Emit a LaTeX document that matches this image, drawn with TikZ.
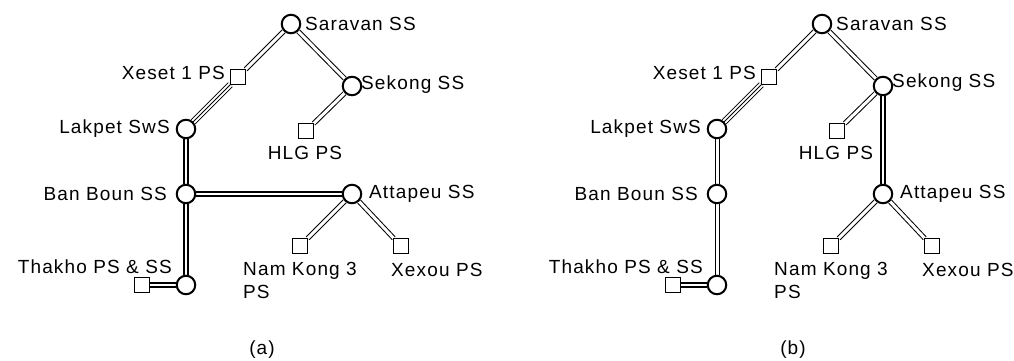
\documentclass[tikz,border=0pt]{standalone}
\usepackage{fontspec}
\setmainfont{Liberation Sans}[LetterSpace=6]
\usetikzlibrary{backgrounds}
\begin{document}
\begin{tikzpicture}[x=1pt,y=-1pt,
  ss/.style={circle, draw, line width=2pt, minimum size=18.5pt, inner sep=0pt, fill=white},
  ps/.style={rectangle, draw, line width=0.9pt, minimum size=14.5pt, inner sep=0pt, fill=white},
  lbl/.style={inner sep=0pt, font=\fontsize{19pt}{23pt}\selectfont},
  thinln/.style={line width=1pt, double=white, double distance=3pt},
  thickln/.style={line width=2pt, double=white, double distance=2.6pt},
  tripleln/.style={line width=0.9pt, double=white, double distance=4.8pt},
  midln/.style={line width=0.9pt}]
\useasboundingbox (0,0) rectangle (1014,360);
% ---------- (a) ----------
\node[ss] (asar) at (291,24) {};
\node[ps] (axes) at (238,77) {};
\node[ss] (asek) at (352,86) {};
\node[ss] (alak) at (186,129) {};
\node[ps] (ahlg) at (306,131) {};
\node[ss] (aban) at (186,194) {};
\node[ss] (aatt) at (352,194) {};
\node[ps] (ank) at (300,246) {};
\node[ps] (axex) at (401,246) {};
\node[ss] (atha) at (186,285) {};
\node[ps] (athas) at (142,285) {};
\begin{pgfonlayer}{background}
\draw[thinln] (asar) -- (axes);
\draw[thinln] (asar) -- (asek);
\draw[tripleln] (axes) -- (alak);
\draw[midln] (axes) -- (alak);
\draw[thinln] (asek) -- (ahlg);
\draw[thickln] (alak) -- (aban);
\draw[thickln] (aban) -- (atha);
\draw[thickln] (aban) -- (aatt);
\draw[thinln] (aatt) -- (ank);
\draw[thinln] (aatt) -- (axex);
\draw[thickln] (athas) -- (atha);
\end{pgfonlayer}
\node[lbl, anchor=west] (lasar) at (305,24) {Saravan SS};
\node[lbl, anchor=east] (laxes) at (225,73) {Xeset 1 PS};
\node[lbl, anchor=west] (lasek) at (361,85) {Sekong SS};
\node[lbl, anchor=east] (lalak) at (170,129) {Lakpet SwS};
\node[lbl] (lahlg) at (305,153) {HLG PS};
\node[lbl, anchor=east] (laban) at (167,194) {Ban Boun SS};
\node[lbl, anchor=west] (laatt) at (369,194) {Attapeu SS};
\node[lbl, anchor=north west, align=left] (lank) at (243,262) {Nam Kong 3\\PS};
\node[lbl, anchor=west] (laxex) at (391,270) {Xexou PS};
\node[lbl, anchor=east] (latha) at (172,267) {Thakho PS \& SS};
\node[lbl] (capa) at (262,350) {(a)};
% ---------- (b) ----------
\node[ss] (bsar) at (822,24) {};
\node[ps] (bxes) at (769,77) {};
\node[ss] (bsek) at (883,86) {};
\node[ss] (blak) at (717,129) {};
\node[ps] (bhlg) at (837,131) {};
\node[ss] (bban) at (717,194) {};
\node[ss] (batt) at (883,194) {};
\node[ps] (bnk) at (831,246) {};
\node[ps] (bxex) at (932,246) {};
\node[ss] (btha) at (717,285) {};
\node[ps] (bthas) at (673,285) {};
\begin{pgfonlayer}{background}
\draw[thinln] (bsar) -- (bxes);
\draw[thinln] (bsar) -- (bsek);
\draw[tripleln] (bxes) -- (blak);
\draw[midln] (bxes) -- (blak);
\draw[thinln] (bsek) -- (bhlg);
\draw[thinln] (blak) -- (bban);
\draw[thinln] (bban) -- (btha);
\draw[thickln] (bsek) -- (batt);
\draw[thinln] (batt) -- (bnk);
\draw[thinln] (batt) -- (bxex);
\draw[thickln] (bthas) -- (btha);
\end{pgfonlayer}
\node[lbl, anchor=west] (lbsar) at (836,24) {Saravan SS};
\node[lbl, anchor=east] (lbxes) at (756,73) {Xeset 1 PS};
\node[lbl, anchor=west] (lbsek) at (892,83) {Sekong SS};
\node[lbl, anchor=east] (lblak) at (701,129) {Lakpet SwS};
\node[lbl] (lbhlg) at (836,153) {HLG PS};
\node[lbl, anchor=east] (lbban) at (698,194) {Ban Boun SS};
\node[lbl, anchor=west] (lbatt) at (900,194) {Attapeu SS};
\node[lbl, anchor=north west, align=left] (lbnk) at (774,262) {Nam Kong 3\\PS};
\node[lbl, anchor=west] (lbxex) at (922,270) {Xexou PS};
\node[lbl, anchor=east] (lbtha) at (703,267) {Thakho PS \& SS};
\node[lbl] (capb) at (793,350) {(b)};
\end{tikzpicture}
\end{document}
